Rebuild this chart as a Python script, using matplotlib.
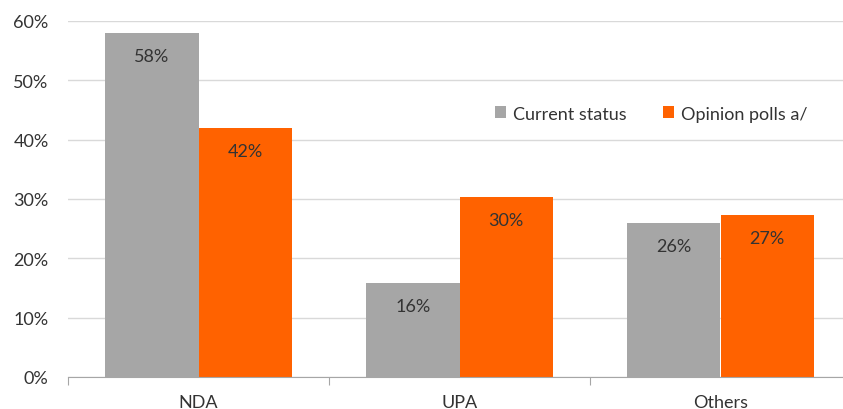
import numpy as np
import matplotlib.pyplot as plt

categories = ["NDA", "UPA", "Others"]
current_status = [58.0, 15.8, 25.9]
opinion_polls = [42.0, 30.3, 27.3]
series_names = ["Current status", "Opinion polls a/"]

grey = "#a6a6a6"
orange = "#ff6200"
text_col = "#333333"

plt.rcParams["font.family"] = ["Lato", "DejaVu Sans"]

fig = plt.figure(figsize=(8.43, 4.10), dpi=100)
ax = fig.add_axes([68 / 843, 32 / 410, 783 / 843, 356 / 410])

x = np.arange(len(categories))
w = 0.357
b1 = ax.bar(x - w / 2, current_status, w, color=grey, label=series_names[0], zorder=2)
b2 = ax.bar(x + w / 2, opinion_polls, w, color=orange, label=series_names[1], zorder=2)

# value labels just inside the top of each bar
for bars in (b1, b2):
    for rect in bars:
        h = rect.get_height()
        ax.annotate(f"{round(h):.0f}%", (rect.get_x() + rect.get_width() / 2, h),
                    xytext=(0, -23), textcoords="offset pixels",
                    ha="center", va="center", fontsize=13, color=text_col, zorder=3)

ax.set_xlim(-0.5, 2.5)
ax.set_ylim(0, 60)
ax.set_yticks(range(0, 61, 10))
ax.set_yticklabels([f"{v}%" for v in range(0, 61, 10)])
ax.yaxis.grid(True, color="#d9d9d9", linewidth=1, zorder=0)
ax.tick_params(axis="y", length=0, labelsize=13, labelcolor=text_col, pad=14)

ax.set_xticks([-0.5, 0.5, 1.5, 2.5])
ax.set_xticklabels([])
ax.set_xticks(x, minor=True)
ax.set_xticklabels(categories, minor=True)
ax.tick_params(axis="x", which="major", length=6, color=grey, direction="out")
ax.tick_params(axis="x", which="minor", length=0, labelsize=13, labelcolor=text_col, pad=12)

for s in ["left", "right", "top"]:
    ax.spines[s].set_visible(False)
ax.spines["bottom"].set_color(grey)

ax.legend(loc="center left", bbox_to_anchor=(0.525, 0.74), ncol=2, frameon=False,
          handlelength=0.6, handleheight=0.6, handletextpad=0.4, columnspacing=2.0,
          fontsize=13, labelcolor=text_col)

fig.savefig("out.png", dpi=100)
